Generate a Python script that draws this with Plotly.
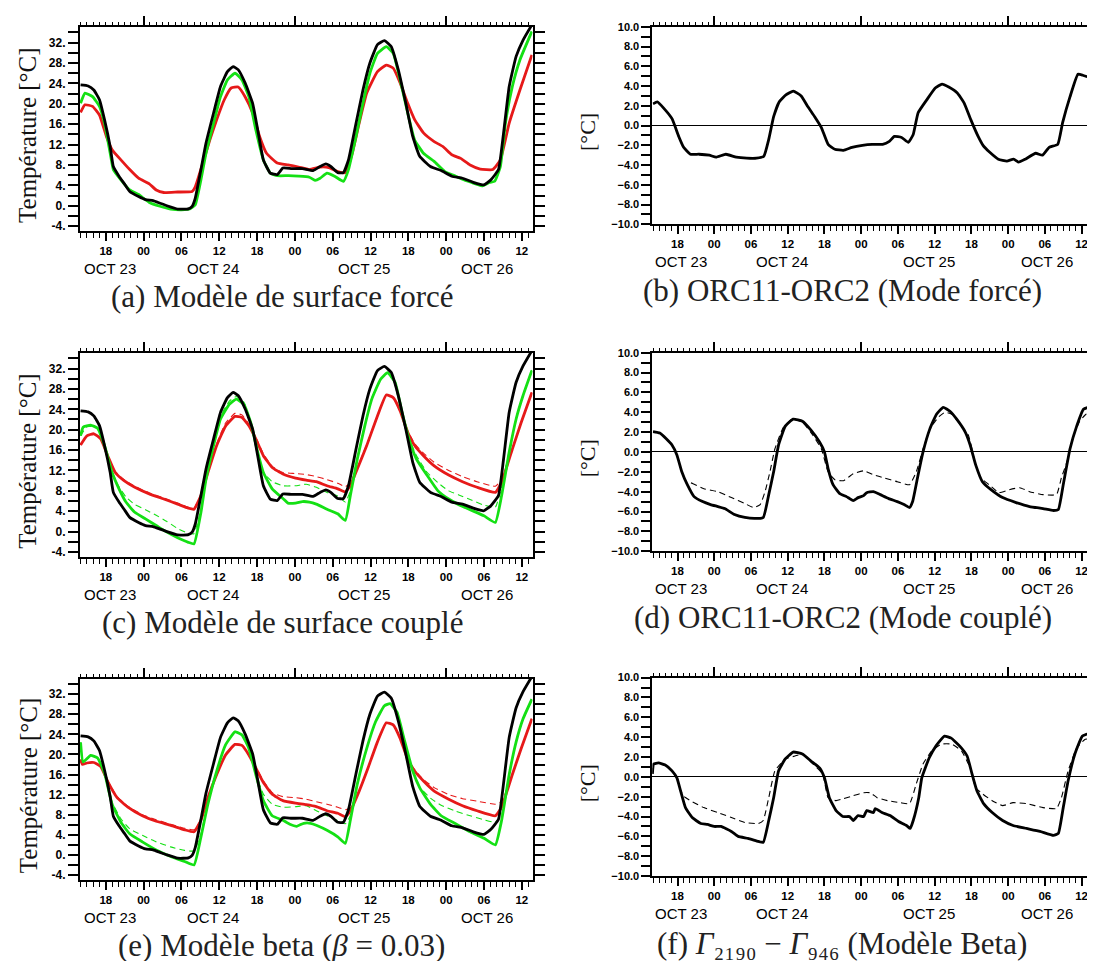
import plotly.graph_objects as go

W, H = 1095, 961

# ---------------- axes / labels ----------------
X_RANGE = [13.9, 85.7]          # hours since OCT 22 00:00
TEMP_RANGE = [-5.0, 35.1]
DIFF_RANGE = [-10.0, 10.0]

HOUR_TICKS = [18, 24, 30, 36, 42, 48, 54, 60, 66, 72, 78, 84]
HOUR_LABELS = ["18", "00", "06", "12", "18", "00", "06", "12", "18", "00", "06", "12"]
HOURLY = list(range(14, 86))
MIDNIGHTS = [24, 48, 72]
DATE_POS = [18.6, 35.0, 59.0, 78.4]
DATE_LABELS = ["OCT 23", "OCT 24", "OCT 25", "OCT 26"]

TEMP_TICKS = list(range(-4, 35, 2))
TEMP_LABELS = [(f"{v}." if v % 4 == 0 else "") for v in TEMP_TICKS]
DIFF_TICKS = list(range(-10, 11))
DIFF_LABELS = [(f"{v:.1f}".replace("-", "\u2212") if v % 2 == 0 else "") for v in DIFF_TICKS]

# ---------------- data ----------------
# observations (black) - same in panels a, c, e
OBS_H = [14, 15.2, 16.1, 17, 17.8, 18.7, 19.2, 20.1, 20.9, 21.8, 23.2, 24.3, 25.5, 26.6, 27.7, 29.4, 31.1,
         31.7, 32.2, 33.1, 33.9, 35.1, 36.2, 37.3, 38.2, 39.0, 40.1, 41.3, 42.1, 43.0, 44.1, 45.2, 46.1,
         47.5, 49.2, 50.9, 52.0, 52.9, 53.7, 54.8, 55.7, 56.5, 57.7, 58.8, 59.9, 61.1, 62.2, 63.3, 64.4,
         65.6, 66.7, 67.8, 69.5, 71.2, 72.9, 74.6, 76.3, 77.4, 78.0, 79.1, 80.3, 81.1, 82.0, 83.1, 84.2, 85.6]
OBS_T = [23.7, 23.5, 22.7, 20.8, 16.9, 11.6, 7.7, 5.8, 4.4, 2.8, 1.8, 1.2, 1.0, 0.5, 0.0, -0.65, -0.6,
         -0.1, 1.5, 7.1, 12.3, 18.2, 23.4, 26.3, 27.3, 26.7, 24.1, 20.1, 14.9, 9.0, 6.4, 6.1, 7.4,
         7.3, 7.3, 6.9, 7.7, 8.2, 7.7, 6.5, 6.5, 9.0, 16.2, 22.7, 28.0, 31.6, 32.4, 31.2, 26.7,
         20.1, 13.6, 9.7, 7.7, 6.9, 5.8, 5.4, 4.6, 4.2, 4.1, 5.1, 7.1, 14.2, 23.4, 29.3, 32.5, 35.5]

# (a) forced surface model
A_GREEN_H = [14, 14.7, 15.9, 17, 17.8, 18.7, 19.2, 20.4, 21.8, 23.2, 24.9, 26.6, 28.3, 30, 31.4, 32.2, 33.1,
             33.9, 35.1, 36.2, 37.3, 38.5, 39.6, 40.7, 41.8, 43.0, 44.1, 45.2, 47, 48.6, 50.3, 51.2, 52,
             53.1, 54.3, 55.7, 56.5, 57.7, 58.8, 59.9, 61.1, 62.5, 63.6, 64.7, 65.9, 67, 68.4, 70.1, 71.8,
             73.5, 75.2, 76.9, 77.7, 78.9, 79.7, 80.6, 81.4, 82.5, 83.7, 85.6]
A_GREEN_T = [20.1, 22.1, 21.4, 19.5, 16.2, 10.3, 7.1, 5.1, 3.1, 2.2, 0.65, -0.1, -0.65, -0.8, -0.6, 0.2, 5.1,
             10.3, 16.2, 21.4, 24.7, 26.0, 24.7, 21.4, 14.9, 9.0, 6.4, 5.9, 5.9, 5.8, 5.6, 5.0, 5.4,
             6.4, 5.8, 4.8, 7.1, 13.6, 20.1, 26.0, 29.9, 31.2, 29.9, 24.7, 18.2, 12.9, 10.3, 8.7, 6.7,
             5.8, 4.9, 4.2, 3.9, 4.6, 4.8, 7.7, 16.2, 23.4, 28.6, 34.2]
A_RED_H = [14, 14.7, 15.9, 17, 18.1, 19, 20.4, 21.8, 23.2, 24.9, 26.0, 27.2, 29.4, 31.7, 32.2, 33.4, 34.5,
           35.6, 36.8, 37.9, 39.0, 40.1, 41.3, 42.4, 43.5, 45.2, 46.9, 48.6, 50.3, 52, 53.4, 54.8, 56,
           57.1, 58.2, 59.4, 61.1, 62.5, 63.6, 64.7, 65.9, 67, 68.4, 70.1, 71.5, 72.9, 74.3, 75.8, 77.4,
           79.4, 80.6, 82, 83.7, 85.6]
A_RED_T = [18.3, 19.8, 19.5, 17.8, 13.6, 11.0, 9.0, 7.1, 5.4, 4.3, 3.1, 2.6, 2.7, 2.8, 3.7, 8.4, 12.9,
           16.9, 20.8, 23.1, 23.3, 21.4, 18.2, 13.6, 10.3, 8.4, 8.0, 7.6, 7.1, 7.6, 7.5, 6.7, 6.5,
           10.3, 16.2, 22.1, 26.3, 27.6, 27.0, 24.1, 20.1, 16.9, 14.3, 12.6, 11.6, 10.0, 9.3, 8.0, 7.2,
           7.1, 9.0, 16.2, 22.7, 29.6]

# (b) ORC11-ORC2 forced
B_H = [14, 14.7, 15.7, 17.1, 18.2, 19, 20.1, 21.5, 23.2, 24.3, 25.9, 27.6, 29.3, 30.9, 32.1, 32.9, 33.7,
       34.6, 35.7, 36.9, 38.2, 39.3, 40.4, 41.5, 42.6, 43.7, 45.1, 46.5, 48.2, 49.8, 51.5, 52.6, 53.4,
       54.6, 55.7, 56.5, 57.3, 58.7, 60.1, 61.2, 62.3, 63.7, 64.8, 65.9, 67.1, 67.9, 69, 70.4, 71.8,
       72.9, 73.7, 74.8, 76.5, 77.6, 78.7, 80.1, 80.9, 82.1, 83.4, 84.2, 85.6]
B_D = [2.2, 2.4, 1.8, 0.7, -1.1, -2.2, -2.9, -2.9, -3.0, -3.2, -2.9, -3.2, -3.3, -3.3, -3.1, -1.4, 0.9,
       2.4, 3.1, 3.5, 3.0, 1.9, 0.9, -0.2, -1.9, -2.4, -2.5, -2.2, -2.0, -1.9, -1.9, -1.6, -1.1,
       -1.2, -1.7, -0.9, 1.3, 2.6, 3.8, 4.2, 3.9, 3.3, 2.3, 0.6, -1.1, -2.0, -2.7, -3.4, -3.6,
       -3.4, -3.7, -3.4, -2.8, -3.0, -2.2, -1.9, 0.3, 2.9, 5.2, 5.1, 4.8]

# (c) coupled surface model
C_GREEN_H = [14, 14.4, 15.6, 16.7, 17.8, 19, 20.1, 21.2, 22.6, 24.3, 26, 27.7, 29.4, 31.1, 32, 33.1, 33.9,
             35.1, 36.2, 37.6, 38.7, 39.9, 41, 42.1, 43, 44.4, 46.1, 46.9, 48.1, 49.2, 50.3, 51.4, 53.1,
             54.8, 56, 56.8, 57.9, 59.1, 60.2, 61.6, 62.7, 63.9, 65, 66.1, 67.3, 69, 70.7, 72.4, 74.0,
             75.8, 78.0, 79.8, 80.8, 82, 83.1, 84.2, 85.6]
C_GREEN_T = [18.8, 20.5, 20.9, 20.3, 16.9, 11.6, 8.4, 5.8, 3.8, 2.5, 1.2, -0.1, -1.2, -2.1, -2.4, 3.8, 10.3,
             16.9, 22.1, 25.0, 26.0, 25.0, 21.4, 15.6, 11.6, 8.4, 6.5, 5.6, 5.6, 5.9, 5.8, 5.4, 4.4,
             3.5, 2.2, 7.1, 14.2, 20.8, 26.0, 29.9, 31.2, 29.3, 23.4, 18.2, 14.2, 11.0, 8.0, 6.4, 5.3,
             4.3, 3.1, 1.8, 7.1, 15.6, 22.1, 26.7, 31.6]
C_GREEN_DASH_H = [14, 15, 16.5, 17.8, 19, 20, 21.2, 22.6, 24.3, 26, 27.7, 29.4, 31.1, 32, 33.1, 33.9, 35.1,
                  36.2, 37.6, 38.7, 39.9, 41, 42.1, 43, 44.4, 46.1, 48.1, 49.8, 51.4, 53.1, 54.8, 56, 56.8,
                  57.9, 59.1, 60.2, 61.6, 62.7, 63.9, 65, 66.1, 67.3, 69, 70.7, 72.4, 74, 75.8, 78, 79.8,
                  80.8, 82, 83.1, 84.2, 85.6]
C_GREEN_DASH_T = [18.8, 20.6, 20.5, 17.0, 11.8, 9.0, 6.8, 5.3, 4.3, 3.2, 2.0, 0.6, -0.3, -0.4, 4.5, 10.8, 17.5,
                  22.6, 25.6, 26.5, 25.4, 21.4, 15.0, 11.6, 9.8, 9.0, 9.0, 9.3, 8.7, 7.7, 7.0, 5.8, 8.0,
                  14.5, 21.0, 26.2, 30.0, 31.1, 29.3, 23.4, 18.3, 14.9, 11.6, 9.6, 8.0, 7.2, 6.3, 5.2, 4.8,
                  8.8, 15.8, 22.3, 26.9, 31.7]
C_RED_H = [14, 15, 16.1, 17.2, 18.4, 19.5, 20.9, 22.6, 24.9, 27.2, 29.4, 31.1, 32, 33.1, 34.2, 35.6, 37,
           38.5, 39.6, 40.7, 41.8, 43, 44.4, 46.1, 48.1, 49.8, 51.4, 53.1, 54.8, 56, 56.8, 57.9, 59.4,
           61.1, 62.5, 63.6, 64.7, 65.9, 67, 68.4, 70.1, 72.4, 74.6, 76.9, 79.8, 80.8, 82.5, 83.9, 85.6]
C_RED_T = [17.0, 18.8, 19.2, 18.2, 14.6, 11.6, 10.0, 8.7, 7.4, 6.4, 5.4, 4.6, 4.4, 7.1, 11.6, 16.9, 20.7,
           22.6, 22.4, 20.8, 18.2, 14.9, 12.6, 11.3, 10.5, 10.1, 9.8, 9.0, 8.4, 7.8, 9.0, 12.3, 16.9,
           22.7, 26.8, 26.3, 23.7, 19.5, 16.9, 14.9, 12.9, 11.1, 9.8, 8.7, 7.7, 9.7, 16.2, 21.4, 27.3]
C_RED_DASH_T = [17.0, 18.8, 19.2, 18.2, 14.7, 11.8, 10.2, 8.9, 7.6, 6.6, 5.6, 4.8, 4.6, 7.3, 11.8, 17.3, 21.3,
                23.2, 22.9, 21.1, 18.5, 15.3, 12.8, 11.6, 11.4, 11.2, 10.8, 10.2, 9.5, 8.8, 9.6, 12.6, 17.1,
                22.8, 26.8, 26.3, 23.8, 19.8, 17.3, 15.4, 13.6, 12.0, 10.8, 9.8, 8.9, 10.2, 16.3, 21.4, 27.3]

# (d) ORC11-ORC2 coupled
D_H = [14, 15.1, 16.2, 17.1, 17.9, 18.7, 19.6, 20.7, 22.1, 23.4, 24.6, 25.7, 27.3, 29, 30.6, 32, 32.9,
       33.7, 34.5, 35.6, 36.9, 38.4, 39.8, 41.2, 42, 42.6, 43.4, 44.5, 45.6, 46.7, 47.5, 48.4, 48.9,
       50, 51.1, 52.5, 53.9, 55, 55.9, 56.4, 57.2, 58.1, 59.2, 60.3, 61.4, 62.5, 63.6, 65, 65.8,
       66.7, 67.8, 69.2, 71.1, 73.3, 75.5, 77.7, 79.4, 80.2, 81, 82.1, 83.2, 84.3, 85.7]
D_D = [2.05, 1.9, 1.3, 0.7, -0.3, -2.0, -3.3, -4.5, -5.0, -5.3, -5.5, -5.7, -6.3, -6.6, -6.7, -6.6, -4.3,
       -2.0, 0.7, 2.6, 3.3, 3.1, 2.2, 1.0, 0.0, -1.7, -3.3, -4.2, -4.5, -4.9, -4.6, -4.4, -4.1,
       -4.0, -4.3, -4.7, -5.0, -5.3, -5.6, -5.0, -2.6, 0.0, 2.3, 3.8, 4.5, 4.1, 3.3, 2.0, 0.7,
       -1.3, -3.0, -3.8, -4.6, -5.1, -5.5, -5.7, -5.9, -5.8, -3.3, 0.3, 2.6, 4.3, 4.6]
D_DASH_H = [14, 15.1, 16.2, 17.1, 17.9, 18.7, 19.6, 20.1, 22.3, 24.6, 26.8, 29, 30.4, 31.5, 32.3, 33.1, 33.9,
            35.3, 36.7, 38.4, 40.1, 41.5, 42.6, 43.7, 45.1, 46.7, 48.4, 50, 51.7, 53.9, 55.9, 57, 58.1,
            59.2, 60.6, 61.7, 62.8, 64.4, 65.5, 66.7, 67.5, 68.9, 70.5, 72.2, 73.9, 75.5, 77.7, 79.9, 80.7,
            81.6, 82.5, 83.6, 84.7, 85.7]
D_DASH_D = [2.05, 1.9, 1.3, 0.7, -0.3, -2.0, -3.2, -3.1, -3.7, -4.0, -4.6, -5.2, -5.6, -5.3, -4.0, -2.0, 0.3,
            2.5, 3.3, 3.0, 1.7, 0.3, -2.0, -2.8, -2.9, -2.2, -1.9, -2.3, -2.6, -3.0, -3.3, -2.0, 0.3,
            2.3, 3.5, 4.0, 3.8, 2.6, 1.7, -1.3, -2.6, -3.3, -4.1, -3.8, -3.6, -4.0, -4.3, -4.3, -2.6,
            -1.0, 1.3, 3.0, 3.8, 4.0]

# (e) beta model
E_GREEN_H = [14, 14.4, 15.6, 16.7, 17.8, 19, 20.4, 21.8, 23.8, 26, 28.3, 30.5, 32, 33.1, 34.2, 35.6, 37,
             38.5, 39.6, 40.7, 41.8, 43, 44.4, 46.1, 47.2, 48.3, 49.4, 50.5, 51.4, 53.1, 54.8, 56, 56.8,
             57.9, 59.4, 60.8, 62.2, 63.1, 64.2, 65.3, 66.7, 67.8, 69.5, 71.2, 73.5, 75.8, 78, 79.8, 80.8,
             82, 83.1, 84.2, 85.6]
E_GREEN_T = [22.4, 18.5, 19.8, 19.3, 16.3, 10.1, 6.5, 4.2, 2.6, 1.0, -0.3, -1.3, -2.0, 3.6, 10.1, 16.7, 21.9,
             24.5, 23.9, 21.2, 16.0, 10.8, 7.8, 6.9, 6.1, 5.7, 6.3, 6.3, 5.9, 4.9, 3.6, 2.3, 6.9,
             14.1, 21.2, 26.5, 29.7, 30.1, 28.4, 23.2, 16.7, 13.4, 10.1, 7.8, 6.2, 4.6, 3.3, 2.0, 6.9,
             16.0, 22.5, 27.1, 31.0]
E_GREEN_DASH_H = [14, 14.4, 15.6, 16.7, 17.8, 19, 20.4, 21.8, 23.8, 26, 28.3, 30.5, 32, 33.1, 34.2, 35.6, 37,
                  38.5, 39.6, 40.7, 41.8, 43, 44.4, 46.1, 48.1, 49.8, 51.4, 53.1, 54.8, 56, 56.8, 57.9, 59.4,
                  60.8, 62.2, 63.1, 64.2, 65.3, 66.7, 67.8, 69.5, 71.2, 73.5, 75.8, 78, 79.8, 80.8, 82, 83.1,
                  84.2, 85.6]
E_GREEN_DASH_T = [22.4, 18.5, 19.8, 19.3, 16.4, 10.5, 7.2, 5.2, 3.9, 2.6, 1.6, 0.9, 0.8, 4.2, 10.3, 16.8, 22.0,
                  24.6, 24.0, 21.2, 16.2, 12.1, 10.1, 9.5, 9.6, 9.8, 8.8, 7.8, 6.8, 6.2, 7.8, 14.3, 21.2,
                  26.5, 29.6, 30.0, 28.4, 23.2, 16.7, 13.5, 11.3, 9.9, 8.7, 7.8, 7.0, 6.5, 8.0, 16.1, 22.6,
                  27.1, 31.0]
E_RED_H = [14, 14.3, 15, 16.1, 17.2, 18.4, 19.8, 21.5, 23.8, 26, 28.3, 30.5, 32, 33.1, 34.2, 35.6, 37,
           38.5, 39.6, 40.7, 41.8, 43, 44.4, 46.1, 48.1, 49.8, 51.4, 53.1, 54.8, 56, 56.8, 58.2, 59.6,
           61.1, 62.5, 63.6, 64.7, 65.9, 67, 68.4, 70.1, 72.4, 74.6, 76.9, 79.8, 80.8, 82.5, 83.9, 85.6]
E_RED_T = [19.0, 18.0, 18.3, 18.4, 17.6, 14.4, 11.4, 9.5, 7.8, 6.7, 5.9, 5.0, 4.6, 6.9, 11.4, 16.0, 19.9,
           22.0, 21.8, 19.9, 17.3, 14.4, 12.1, 10.8, 10.3, 10.0, 9.6, 8.8, 8.3, 7.6, 8.8, 12.7, 17.3,
           22.5, 26.3, 25.9, 23.2, 19.0, 16.7, 14.7, 12.7, 11.1, 9.8, 8.8, 7.8, 9.5, 16.0, 21.2, 27.1]
E_RED_DASH_T = [19.0, 18.0, 18.3, 18.4, 17.6, 14.5, 11.6, 9.7, 8.0, 7.0, 6.1, 5.3, 5.0, 7.0, 11.5, 16.1, 20.0,
                22.1, 21.9, 20.0, 17.5, 14.8, 12.4, 11.6, 11.4, 11.1, 10.6, 10.1, 9.5, 9.0, 9.4, 12.8, 17.3,
                22.5, 26.3, 25.9, 23.3, 19.2, 17.0, 15.0, 13.4, 12.0, 11.2, 10.7, 10.1, 10.6, 16.1, 21.2, 27.1]

# (f) Gamma2190 - Gamma946 (beta model)
F_H = [13.9, 14.1, 14.9, 16, 17.1, 17.9, 18.5, 19.3, 20.4, 21.8, 22.9, 24, 25.1, 26.8, 27.9, 29.5, 31.2,
       32, 32.9, 33.7, 34.5, 35.6, 36.9, 38.4, 39.8, 41.2, 42, 42.8, 43.9, 45, 46.1, 46.7, 47.5,
       48.4, 48.9, 50, 50.3, 51.4, 52.7, 54.1, 55.4, 56, 56.5, 57.4, 57.9, 59.1, 60.2, 61.6, 62.7,
       64.1, 65.3, 66.1, 66.9, 68, 69.4, 71.1, 72.8, 75, 77.2, 79.4, 80.2, 81, 81.8, 82.9, 84.1, 84.9, 85.7]
F_D = [0.3, 1.3, 1.4, 1.2, 0.6, -0.1, -1.4, -3.1, -4.1, -4.7, -4.8, -5.0, -5.0, -5.5, -6.0, -6.2, -6.5,
       -6.6, -4.4, -2.1, 0.6, 1.8, 2.5, 2.3, 1.6, 0.9, -0.1, -2.1, -3.4, -4.0, -4.0, -4.4, -3.9,
       -4.0, -3.4, -3.6, -3.2, -3.6, -3.9, -4.5, -4.9, -5.2, -4.4, -2.1, -0.1, 1.9, 3.1, 4.1, 3.9,
       3.1, 2.1, 0.3, -1.4, -2.7, -3.6, -4.4, -4.9, -5.2, -5.5, -5.9, -5.7, -3.1, -0.4, 2.3, 4.1, 4.3, 4.1]
F_DASH_H = [13.9, 14.1, 14.9, 16, 17.1, 17.9, 18.5, 19.1, 20.1, 22.3, 24.6, 26.8, 29, 31.2, 32, 32.9, 33.9,
            35.6, 37.2, 38.4, 40.1, 41.7, 42.6, 43.9, 45.1, 46.7, 48.4, 49.5, 50.6, 52.3, 54.4, 55.9, 57,
            58.1, 59.5, 61.1, 62.8, 64.4, 65.8, 66.7, 67.8, 69.4, 71.1, 72.8, 75, 77.7, 79.9, 80.7, 81.8,
            83.2, 84.6, 85.7]
F_DASH_D = [0.3, 1.3, 1.4, 1.2, 0.6, -0.1, -1.4, -2.0, -2.4, -3.1, -3.6, -4.1, -4.6, -4.7, -4.4, -2.1, 0.6,
            1.8, 2.1, 2.3, 1.3, 0.3, -2.1, -2.4, -2.2, -1.9, -1.6, -1.6, -2.1, -2.4, -2.6, -2.7, -0.7,
            1.3, 2.6, 3.3, 3.3, 2.6, 0.9, -1.1, -1.7, -2.4, -2.9, -2.6, -2.7, -3.1, -3.2, -2.1, 0.6,
            2.9, 3.8, 3.8]

CAPTIONS = [
    "(a) Modèle de surface forcé",
    "(b) ORC11-ORC2 (Mode forcé)",
    "(c) Modèle de surface couplé",
    "(d) ORC11-ORC2 (Mode couplé)",
    "(e) Modèle beta (<i>β</i> = 0.03)",
    "(f) <i>Γ</i>\u2082\u2081\u2089\u2080 − <i>Γ</i>\u2089\u2084\u2086 (Modèle Beta)",
]

# ---------------- styles ----------------
BLACK = "#000000"
GREEN = "#14e014"
RED = "#e61919"
THICK = 2.8
THIN = 1.1
DASH = "6px,4px"

# panel geometry in pixels: left, right, top, bottom, kind, caption centre x, caption offset below frame
GEOM = [
    (72, 525, 13, 220, "temp", 275, 66),
    (645, 1085, 13, 213, "diff", 835, 67),
    (72, 525, 343, 550, "temp", 275, 66),
    (645, 1085, 343, 544, "diff", 836, 67),
    (72, 525, 673, 877, "temp", 274, 66),
    (645, 1085, 672, 873, "diff", 835, 68),
]

fig = go.Figure()


def names(i):
    s = "" if i == 1 else str(i)
    return "x" + s, "y" + s


def add(i, x, y, color, width, dash=None):
    xn, yn = names(i)
    fig.add_trace(go.Scatter(x=x, y=y, mode="lines", xaxis=xn, yaxis=yn,
                             line=dict(color=color, width=width, dash=dash, shape="spline", smoothing=0.4),
                             showlegend=False, hoverinfo="skip"))


# panel a
add(1, A_RED_H, A_RED_T, RED, THICK)
add(1, A_GREEN_H, A_GREEN_T, GREEN, THICK)
add(1, OBS_H, OBS_T, BLACK, THICK)
# panel b
add(2, B_H, B_D, BLACK, THICK)
# panel c
add(3, C_RED_H, C_RED_DASH_T, RED, THIN, DASH)
add(3, C_GREEN_DASH_H, C_GREEN_DASH_T, GREEN, THIN, DASH)
add(3, C_RED_H, C_RED_T, RED, THICK)
add(3, C_GREEN_H, C_GREEN_T, GREEN, THICK)
add(3, OBS_H, OBS_T, BLACK, THICK)
# panel d
add(4, D_DASH_H, D_DASH_D, BLACK, THIN, DASH)
add(4, D_H, D_D, BLACK, THICK)
# panel e
add(5, E_RED_H, E_RED_DASH_T, RED, THIN, DASH)
add(5, E_GREEN_DASH_H, E_GREEN_DASH_T, GREEN, THIN, DASH)
add(5, E_RED_H, E_RED_T, RED, THICK)
add(5, E_GREEN_H, E_GREEN_T, GREEN, THICK)
add(5, OBS_H, OBS_T, BLACK, THICK)
# panel f
add(6, F_DASH_H, F_DASH_D, BLACK, THIN, DASH)
add(6, F_H, F_D, BLACK, THICK)

XTICKFONT = dict(family="Liberation Sans", size=11.5, color="black", weight="bold")
YTICKFONT_T = dict(family="Liberation Sans", size=12, color="black", weight="bold")
YTICKFONT_D = dict(family="Liberation Sans", size=11, color="black", weight="bold")
layout = dict(width=W, height=H, margin=dict(l=0, r=0, t=0, b=0),
              paper_bgcolor="white", plot_bgcolor="white", showlegend=False)
annotations = []

for i, (l, r, t, b, kind, capx, capdy) in enumerate(GEOM, start=1):
    xn, yn = names(i)
    xkey = "xaxis" + ("" if i == 1 else str(i))
    ykey = "yaxis" + ("" if i == 1 else str(i))
    layout[xkey] = dict(domain=[l / W, r / W], anchor=yn, range=X_RANGE,
                        showline=True, linewidth=2, linecolor="black", mirror=True,
                        ticks="outside", tickmode="array", tickvals=HOUR_TICKS, ticktext=HOUR_LABELS,
                        ticklen=8, tickwidth=1.6, tickcolor="black", tickfont=XTICKFONT,
                        minor=dict(tickmode="array", tickvals=HOURLY, ticks="outside", ticklen=5,
                                   tickwidth=1.3, tickcolor="black", showgrid=False),
                        showgrid=False, zeroline=False, fixedrange=True)
    # top axis with midnight ticks
    topn = "x" + str(i + 6)
    layout["xaxis" + str(i + 6)] = dict(overlaying=xn, side="top", anchor=yn, range=X_RANGE,
                                        showline=False, ticks="outside", tickmode="array",
                                        tickvals=MIDNIGHTS, ticklen=10, tickwidth=1.6, tickcolor="black",
                                        showticklabels=False,
                                        minor=dict(tickmode="array", tickvals=HOURLY, ticks="outside",
                                                   ticklen=4, tickwidth=1.3, tickcolor="black",
                                                   showgrid=False),
                                        showgrid=False, zeroline=False, fixedrange=True)
    fig.add_trace(go.Scatter(x=[], y=[], xaxis=topn, yaxis=yn, showlegend=False, hoverinfo="skip"))

    if kind == "temp":
        ydict = dict(range=TEMP_RANGE, tickvals=TEMP_TICKS, ticktext=TEMP_LABELS, ticklen=10,
                     zeroline=False, tickfont=YTICKFONT_T)
        ytitle, ytx, yfs = "Température [°C]", 20, 25
    else:
        ydict = dict(range=DIFF_RANGE, tickvals=DIFF_TICKS, ticktext=DIFF_LABELS, ticklen=9,
                     zeroline=True, zerolinecolor="black", zerolinewidth=1, tickfont=YTICKFONT_D)
        ytitle, ytx, yfs = "[°C]", 580, 22
    layout[ykey] = dict(domain=[1 - b / H, 1 - t / H], anchor=xn, showline=True, linewidth=2,
                        linecolor="black", mirror="ticks", ticks="outside", tickmode="array",
                        tickwidth=1.6, tickcolor="black", showgrid=False,
                        fixedrange=True, **ydict)

    # date labels
    for pos, lab in zip(DATE_POS, DATE_LABELS):
        annotations.append(dict(x=pos, y=0, xref=xn, yref=yn + " domain", text=lab, showarrow=False,
                                yshift=-37, yanchor="middle", xanchor="center",
                                font=dict(family="Liberation Sans", size=15, color="black")))
    # y title
    annotations.append(dict(x=ytx / W, y=1 - ((t + b) / 2 + 6) / H, xref="paper", yref="paper",
                            text=ytitle, textangle=-90, showarrow=False, xanchor="center",
                            yanchor="middle",
                            font=dict(family="Liberation Serif", size=yfs, color="#111111")))
    # caption
    annotations.append(dict(x=capx / W, y=1 - (b + capdy) / H, xref="paper", yref="paper",
                            text=CAPTIONS[i - 1], showarrow=False, xanchor="center", yanchor="middle",
                            font=dict(family="Liberation Serif", size=31, color="#222222")))

layout["annotations"] = annotations
fig.update_layout(**layout)
fig.write_html("out.html")
